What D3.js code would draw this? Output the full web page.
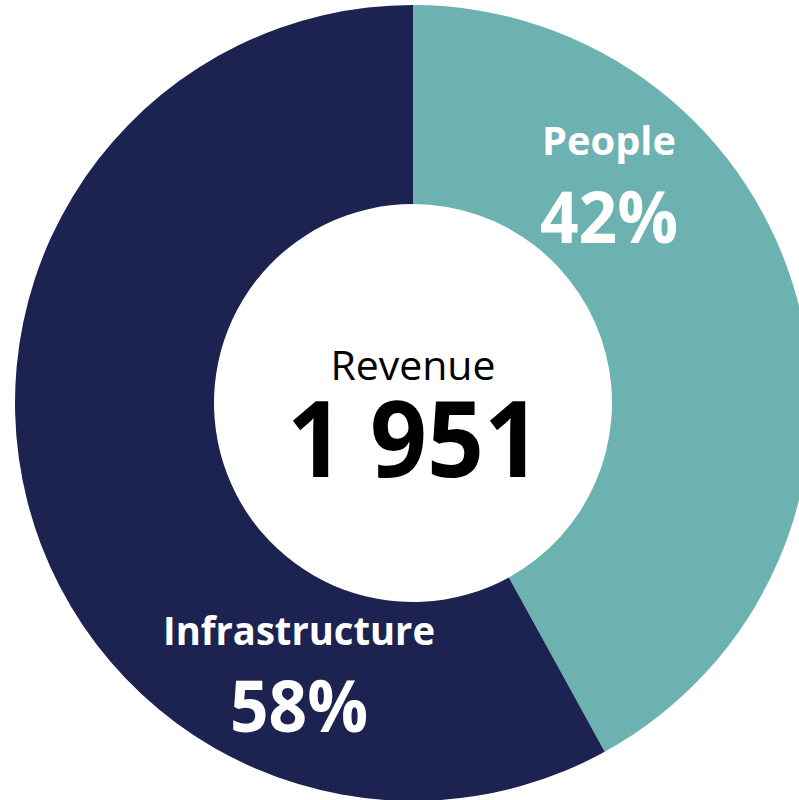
<!DOCTYPE html>
<html>
<head>
<meta charset="utf-8">
<script src="https://cdn.jsdelivr.net/npm/d3@7"></script>
<style>
  html, body { margin: 0; padding: 0; background: #ffffff; }
  svg { display: block; }
  text { font-family: "Open Sans", Lato, sans-serif; }
</style>
</head>
<body>
<svg id="chart" width="799" height="800"></svg>
<script>
// Revenue split by segment (percent of total)
const segments = ["People", "Infrastructure"];
const shares = [42, 58];
const colors = ["#6cb2b0", "#1c2350"];
const centerTitle = "Revenue";
const centerValue = "1 951";

const cx = 413, cy = 403;
const outerR = 398, innerR = 199;

const svg = d3.select("#chart");
const g = svg.append("g").attr("transform", `translate(${cx},${cy})`);

const data = segments.map((name, i) => ({ name, value: shares[i], color: colors[i] }));

const pie = d3.pie().value(d => d.value).sort(null);
const arc = d3.arc().innerRadius(innerR).outerRadius(outerR);
const arcs = pie(data);

g.selectAll("path.slice")
  .data(arcs)
  .join("path")
  .attr("class", "slice")
  .attr("d", arc)
  .attr("fill", d => d.data.color);

// Segment labels: name above, percentage below
const labelLayout = {
  People: { x: 196, nameY: -248, pctY: -160 },
  Infrastructure: { x: -114, nameY: 242, pctY: 329 }
};

arcs.forEach(a => {
  const pos = labelLayout[a.data.name];
  g.append("text")
    .attr("x", pos.x)
    .attr("y", pos.nameY)
    .attr("text-anchor", "middle")
    .attr("fill", "#ffffff")
    .attr("font-weight", 700)
    .attr("font-size", 39)
    .attr("textLength", a.data.name === "People" ? 134 : 272)
    .attr("lengthAdjust", "spacingAndGlyphs")
    .text(a.data.name);
  g.append("text")
    .attr("x", pos.x)
    .attr("y", pos.pctY)
    .attr("text-anchor", "middle")
    .attr("fill", "#ffffff")
    .attr("font-weight", 700)
    .attr("font-size", 71)
    .attr("textLength", 138)
    .attr("lengthAdjust", "spacingAndGlyphs")
    .text(d3.format("d")(a.data.value) + "%");
});

// Centre caption
g.append("text")
  .attr("x", 0)
  .attr("y", -23)
  .attr("text-anchor", "middle")
  .attr("fill", "#000000")
  .attr("font-size", 40)
  .attr("textLength", 165)
  .attr("lengthAdjust", "spacingAndGlyphs")
  .text(centerTitle);
g.append("text")
  .attr("x", 1)
  .attr("y", 74)
  .attr("text-anchor", "middle")
  .attr("fill", "#000000")
  .attr("font-weight", 700)
  .attr("font-size", 106)
  .attr("textLength", 254)
  .attr("lengthAdjust", "spacingAndGlyphs")
  .text(centerValue);
</script>
</body>
</html>
